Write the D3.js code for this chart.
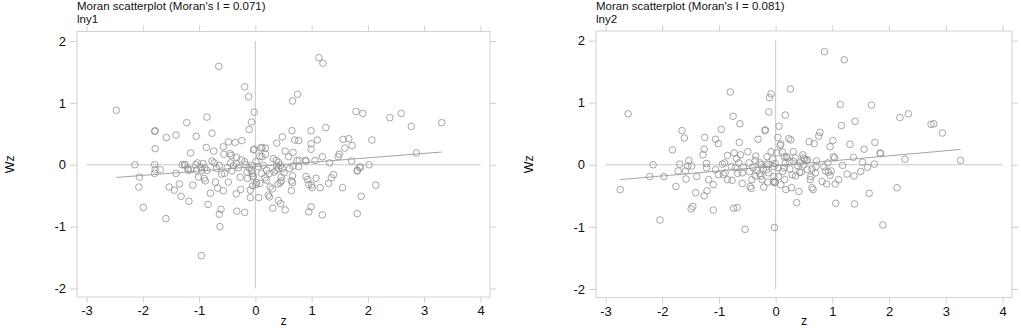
<!DOCTYPE html>
<html>
<head>
<meta charset="utf-8">
<script src="https://cdn.jsdelivr.net/npm/d3@7"></script>
<style>
  body { margin: 0; background: #fff; }
  svg { display: block; font-family: "Liberation Sans", Arial, sans-serif; }
</style>
</head>
<body>
<svg id="chart"></svg>
<script>
// values: [z, Wz]
const lny1Points = [
  [-2.47,0.88],[-0.65,1.59],[-0.19,1.26],[-0.12,1.10],[-0.02,0.85],[-0.07,0.69],[-0.11,0.57],
  [0.66,1.03],[0.75,1.14],[1.13,1.73],[1.20,1.64],[3.31,0.68],[2.59,0.83],[2.39,0.76],[2.77,0.62],
  [1.79,0.86],[1.91,0.83],[1.25,0.60],[2.07,0.40],[2.86,0.19],[0.65,0.55],[0.99,0.55],[0.99,0.34],
  [0.99,0.25],[1.10,0.40],[0.70,0.40],[0.77,0.39],[0.48,0.45],[0.38,0.35],[1.56,0.41],[1.66,0.42],
  [1.72,0.31],[1.59,0.27],[1.49,0.17],[1.47,0.13],[0.67,0.20],[0.53,0.22],[0.59,0.13],[0.74,0.07],
  [0.90,0.06],[1.06,0.07],[1.19,0.13],[1.32,0.03],[1.71,0.06],[2.02,0.00],[1.85,-0.04],[1.81,-0.09],
  [-0.86,0.77],[-0.77,0.51],[-0.87,0.28],[-1.05,0.46],[-1.22,0.68],[-1.41,0.48],[-1.58,0.44],
  [-1.79,0.54],[-1.78,0.55],[-1.78,0.26],[-1.15,0.19],[-0.74,0.22],[-0.57,0.29],[-0.48,0.37],
  [-0.36,0.36],[-0.24,0.39],[-0.02,0.25],[-0.03,0.24],[0.12,0.28],[0.10,0.27],[0.18,0.27],
  [0.12,0.13],[0.18,0.17],[-0.45,0.18],[-0.43,0.15],[-0.33,0.12],[-0.56,0.17],
  [-2.14,0.00],[-1.79,0.00],[-1.79,-0.14],[-2.06,-0.20],[-2.07,-0.36],[-1.99,-0.69],[-1.59,-0.87],
  [-1.53,-0.36],[-1.44,-0.41],[-1.35,-0.31],[-1.32,-0.51],[-1.18,-0.59],[-1.11,-0.33],[-1.41,-0.14],
  [-1.30,0.00],[-1.26,0.00],[-1.20,-0.06],[-1.15,-0.08],[-1.06,0.00],[-1.03,0.03],[-0.97,-0.04],
  [-0.91,-0.22],[-0.89,-0.26],[-0.80,-0.46],[-0.84,-0.64],[-0.71,-0.28],[-0.67,-0.38],[-0.64,-0.80],
  [-0.61,-0.72],[-0.63,-1.00],[-0.57,-0.42],[-0.96,-1.47],[-0.34,-0.47],[-0.33,-0.75],[-0.19,-0.77],
  [-0.09,-0.53],[0.06,-0.53],[0.23,-0.49],[0.31,-0.70],[0.41,-0.58],[0.45,-0.63],[0.53,-0.73],
  [0.64,-0.42],[0.64,-0.26],[0.66,-0.29],[0.66,-0.18],[0.93,-0.24],[0.99,-0.68],[0.95,-0.76],
  [1.19,-0.81],[1.15,-0.37],[1.08,-0.22],[1.30,-0.30],[1.35,-0.21],[1.39,-0.16],[1.55,-0.37],
  [1.81,-0.10],[1.87,-0.04],[1.88,-0.51],[1.81,-0.79],[2.14,-0.33],[0.90,-0.19],[1.00,-0.33],
  [1.01,-0.37],[0.95,-0.32],[0.08,-0.30],[0.02,-0.29],[0.01,-0.32],[-0.05,-0.34],[-0.07,-0.09],
  [-0.05,-0.14],[-0.04,-0.18],[-0.09,-0.41],[0.26,-0.36],[0.30,-0.39],[0.20,-0.09],[0.25,-0.14],
  [0.11,-0.14],[0.14,-0.01],[-0.26,-0.40],[-0.27,-0.20],[-0.30,-0.05],[-0.39,-0.01],[-0.42,-0.10],
  [-0.48,-0.28],[-0.44,0.03],[-0.64,-0.01],[-0.69,-0.06],[-0.73,0.03],[-0.77,0.06],[-0.60,-0.15],
  [-0.55,-0.14],[-0.50,-0.05],[0.32,0.10],[0.37,0.07],[0.41,0.04],[0.45,-0.01],[0.48,-0.06],
  [0.41,-0.06],[0.33,-0.12],[0.46,-0.20],[0.51,-0.13],[0.61,-0.06],[0.67,-0.02],[0.77,-0.03],
  [0.78,0.07],[0.89,0.07],[0.44,-0.29],[0.46,-0.26],[0.40,-0.31],[0.38,-0.02],[0.37,-0.09],
  [0.20,-0.25],[0.17,-0.21],[0.25,-0.52],[-1.25,0.00],[-1.19,-0.09],[-1.04,-0.09],[-0.95,-0.09],
  [-0.90,-0.05],[-0.93,0.02],[-1.01,-0.20],[-0.86,-0.09],[-1.69,-0.08],[-1.78,-0.08],
  [-0.11,-0.05],[-0.17,0.00],[-0.19,0.05],[-0.25,0.08],[-0.34,0.02],[-0.15,-0.12],[-0.14,-0.22],
  [-0.04,-0.20],[0.01,0.05],[0.05,-0.03],[0.08,0.14],[-0.05,-0.01]
];
const lny2Points = [
  [-2.60,0.82],[-2.74,-0.40],[-2.16,0.00],[-2.22,-0.19],[-1.97,-0.19],[-1.82,0.24],[-2.04,-0.89],
  [-1.76,-0.35],[-1.65,0.55],[-1.61,0.43],[-1.69,0.01],[-1.72,-0.10],[-1.59,-0.10],[-1.55,-0.02],
  [-1.58,-0.23],[-1.53,0.07],[-1.48,-0.02],[-1.49,-0.71],[-1.46,-0.67],[-1.41,-0.45],[-1.39,-0.19],
  [-1.26,-0.50],[-1.26,0.25],[-1.25,0.44],[-1.28,0.16],[-1.22,0.02],[-1.22,-0.05],[-1.21,-0.42],
  [-1.18,-0.24],[-1.10,-0.32],[-1.10,-0.73],[-1.06,0.41],[-1.01,0.34],[-0.96,0.57],[-0.94,0.01],
  [-0.92,-0.16],[-0.89,-0.13],[-0.85,0.15],[-0.85,-0.24],[-0.80,1.17],[-0.77,-0.25],[-0.75,0.78],
  [-0.74,-0.70],[-0.68,-0.69],[-0.64,0.36],[-0.63,0.66],[-0.62,0.16],[-0.59,-0.13],[-0.59,-0.30],
  [-0.73,0.19],[-0.69,0.10],[-0.65,0.03],[-0.71,-0.05],[-0.67,-0.14],[-0.54,-1.04],[-0.49,0.21],
  [-0.47,0.03],[-0.46,-0.11],[-0.45,-0.35],[-0.43,-0.38],[-0.40,-0.05],[-0.36,-0.18],[-0.35,0.14],
  [-0.31,0.41],[-0.28,0.03],[-0.25,0.00],[-0.24,-0.24],[-0.21,-0.36],[-0.19,0.55],[-0.18,0.56],
  [-0.16,0.01],[-0.15,0.13],[-0.13,-0.13],[-0.14,-0.28],[-0.12,0.85],[-0.11,1.08],[-0.08,1.14],
  [-0.08,0.21],[-0.05,0.09],[-0.03,-0.03],[-0.01,0.02],[-0.03,-0.19],[-0.02,-0.29],[-0.02,-1.01],
  [0.02,0.19],[0.04,0.44],[0.04,-0.05],[0.05,-0.19],[0.06,0.62],[0.08,0.31],[0.09,0.33],[0.09,-0.32],
  [0.12,0.20],[0.15,0.13],[0.16,-0.24],[0.17,0.80],[0.18,-0.40],[0.19,0.13],[0.21,0.11],[0.23,0.42],
  [0.25,-0.07],[0.26,1.22],[0.27,0.40],[0.28,-0.37],[0.29,-0.16],[0.31,0.21],[0.32,0.05],[0.35,-0.18],
  [0.37,-0.61],[0.41,-0.43],[0.42,-0.12],[0.45,-0.12],[0.48,0.16],[0.49,0.00],[0.51,0.09],[0.54,0.07],
  [0.56,0.08],[0.59,0.37],[0.61,-0.24],[0.62,-0.19],[0.64,-0.37],[0.66,-0.40],[0.68,0.34],[0.70,-0.13],
  [0.72,0.06],[0.76,0.46],[0.78,0.52],[0.82,-0.27],[0.85,-0.03],[0.86,1.82],[0.88,-0.10],[0.90,-0.31],
  [0.93,-0.12],[0.96,0.29],[0.98,-0.10],[1.01,0.39],[1.02,0.13],[1.04,0.11],[1.05,-0.31],[1.06,-0.62],
  [1.11,-0.24],[1.14,0.97],[1.16,0.63],[1.18,-0.01],[1.21,1.69],[1.26,-0.15],[1.31,0.33],[1.37,0.12],
  [1.38,-0.18],[1.39,-0.63],[1.40,0.70],[1.50,-0.11],[1.53,0.04],[1.56,0.25],[1.62,-0.04],[1.65,-0.46],
  [1.69,0.96],[1.74,0.01],[1.75,0.36],[1.84,0.19],[1.85,0.18],[1.89,-0.97],[2.14,-0.37],[2.19,0.76],
  [2.28,0.09],[2.34,0.82],[2.74,0.65],[2.79,0.66],[2.94,0.51],[3.26,0.07],
  [0.49,0.11],[0.43,0.03],[0.38,-0.01],[0.35,0.11],[0.96,-0.17],[0.92,0.03],[-0.33,-0.09],[-0.36,0.07],
  [-0.57,-0.04],[-0.78,-0.03],[-1.01,-0.16],[-1.06,-0.08],[-0.90,0.03],[-0.16,-0.08],[-0.12,0.00],
  [-0.04,-0.27],[-0.01,-0.28],[0.12,-0.11],[0.15,-0.05],[0.24,0.05],[0.17,0.03],[0.71,-0.03],
  [0.64,-0.07],[0.56,-0.08],[-0.42,-0.24],[-0.26,-0.18],[-0.22,-0.08],[-0.28,-0.14]
];

const panels = [
  { name: "lny1", title: "Moran scatterplot (Moran's I = 0.071)", points: lny1Points, slope: 0.071, intercept: -0.03 },
  { name: "lny2", title: "Moran scatterplot (Moran's I = 0.081)", points: lny2Points, slope: 0.081, intercept: -0.018 }
];
const xTicks = [-3, -2, -1, 0, 1, 2, 3, 4];
const yTicks = [-2, -1, 0, 1, 2];

const W = 1021, H = 328;
const svg = d3.select("#chart").attr("width", W).attr("height", H);

const frames = [
  { left: 77, right: 490, top: 31.5, bottom: 297 },
  { left: 596, right: 1012, top: 31, bottom: 297.5 }
];

panels.forEach((p, i) => {
  const f = frames[i];
  const g = svg.append("g");

  const x = d3.scaleLinear().domain([-3, 4]).range([f.left + 9.5, f.right - 9.5]);
  const y = d3.scaleLinear().domain([-2, 2]).range([f.bottom - 8.5, f.top + 9.5]);

  g.append("rect")
    .attr("x", f.left).attr("y", f.top)
    .attr("width", f.right - f.left).attr("height", f.bottom - f.top)
    .attr("fill", "none").attr("stroke", "#d2d2d2").attr("stroke-width", 1);

  const styleAxis = sel => {
    sel.select(".domain").remove();
    sel.selectAll(".tick line").attr("stroke", "#cfcfcf");
    sel.selectAll(".tick text").attr("fill", "#111").style("font-size", "13px")
      .style("font-family", "'Liberation Sans', Arial, sans-serif");
  };
  const fmt = d => String(d);

  g.append("g").attr("transform", `translate(0,${f.bottom})`)
    .call(d3.axisBottom(x).tickValues(xTicks).tickSize(6).tickPadding(3).tickFormat(fmt))
    .call(styleAxis);
  g.append("g").attr("transform", `translate(0,${f.top})`)
    .call(d3.axisTop(x).tickValues(xTicks).tickSize(6).tickFormat(""))
    .call(styleAxis);
  g.append("g").attr("transform", `translate(${f.left},0)`)
    .call(d3.axisLeft(y).tickValues(yTicks).tickSize(7).tickPadding(4).tickFormat(fmt))
    .call(styleAxis);
  g.append("g").attr("transform", `translate(${f.right},0)`)
    .call(d3.axisRight(y).tickValues(yTicks).tickSize(6).tickFormat(""))
    .call(styleAxis);

  // reference lines
  g.append("line")
    .attr("x1", x(-3)).attr("x2", x(4)).attr("y1", y(0)).attr("y2", y(0))
    .attr("stroke", "#c8c8c8").attr("stroke-width", 1);
  g.append("line")
    .attr("x1", x(0)).attr("x2", x(0)).attr("y1", y(-2)).attr("y2", y(2))
    .attr("stroke", "#c8c8c8").attr("stroke-width", 1);

  g.selectAll("circle.pt")
    .data(p.points)
    .enter()
    .append("circle")
    .attr("class", "pt")
    .attr("cx", d => x(d[0]))
    .attr("cy", d => y(d[1]))
    .attr("r", 3.3)
    .attr("fill", "none")
    .attr("stroke", "#8f8f8f")
    .attr("stroke-width", 0.8);

  const zExt = d3.extent(p.points, d => d[0]);
  g.append("line")
    .attr("x1", x(zExt[0])).attr("x2", x(zExt[1]))
    .attr("y1", y(p.intercept + p.slope * zExt[0]))
    .attr("y2", y(p.intercept + p.slope * zExt[1]))
    .attr("stroke", "#9a9a9a").attr("stroke-width", 0.9);

  g.append("text")
    .attr("x", f.left).attr("y", 10)
    .attr("font-size", "11.5px").attr("fill", "#111")
    .text(p.title);
  g.append("text")
    .attr("x", f.left).attr("y", 22.9)
    .attr("font-size", "11.5px").attr("fill", "#111")
    .text(p.name);

  g.append("text")
    .attr("x", (f.left + f.right) / 2).attr("y", 324.5)
    .attr("text-anchor", "middle").attr("font-size", "12.5px").attr("fill", "#111")
    .text("z");
  g.append("text")
    .attr("transform", `translate(${f.left - 63},${(f.top + f.bottom) / 2}) rotate(-90)`)
    .attr("text-anchor", "middle").attr("font-size", "12.5px").attr("fill", "#111")
    .text("Wz");
});
</script>
</body>
</html>
